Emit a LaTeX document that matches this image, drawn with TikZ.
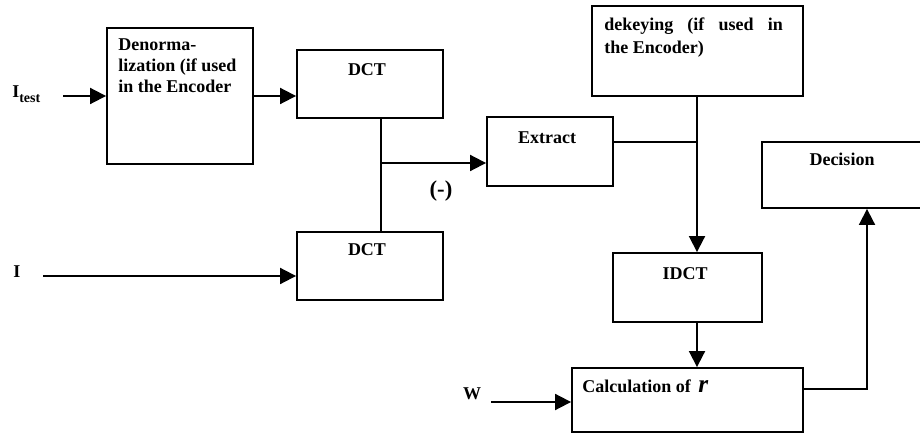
\documentclass[tikz,border=0pt]{standalone}
\usepackage{fontspec}
\setmainfont{Liberation Serif}
\usetikzlibrary{arrows.meta}
\begin{document}
\begin{tikzpicture}[x=0.75pt,y=-0.75pt,
  blk/.style={draw,line width=1.4pt,inner sep=0pt},
  lbl/.style={font=\bfseries\fontsize{13.5}{15.75}\selectfont,inner sep=0pt},
  wire/.style={line width=1.4pt},
  flow/.style={wire,-{Triangle[length=12pt,width=12pt]}}]
\clip (0,0) rectangle (920,434);

% processing blocks
\node[blk,minimum width=146*0.75pt,minimum height=136*0.75pt] (denorm) at (180,96) {};
\node[blk,minimum width=146*0.75pt,minimum height=68*0.75pt] (dct1) at (370,84) {};
\node[blk,minimum width=146*0.75pt,minimum height=68*0.75pt] (dct2) at (370,266) {};
\node[blk,minimum width=126*0.75pt,minimum height=69*0.75pt] (extract) at (550,151.5) {};
\node[blk,minimum width=211*0.75pt,minimum height=90*0.75pt] (dekey) at (697.5,51) {};
\node[blk,minimum width=149*0.75pt,minimum height=69*0.75pt] (idct) at (687.5,287.5) {};
\node[blk,minimum width=231*0.75pt,minimum height=64*0.75pt] (calc) at (687.5,400) {};
\node[blk,minimum width=180*0.75pt,minimum height=66*0.75pt] (decision) at (852,175) {};

% block captions
\node[lbl,anchor=north west,align=left] (tdenorm) at (118,38) {Denorma-\\lization (if used\\in the Encoder};
\node[lbl,anchor=base] (tdct1) at (367,76) {DCT};
\node[lbl,anchor=base] (tdct2) at (367,256) {DCT};
\node[lbl,anchor=base] (textract) at (547,144) {Extract};
\node[lbl,anchor=north west,text width=134pt,align=justify,
      font=\bfseries\fontsize{13.5}{17}\selectfont] (tdekey) at (604,18)
      {dekeying (if used in\linebreak the Encoder)};
\node[lbl,anchor=base] (tidct) at (685,280) {IDCT};
\node[lbl,anchor=base] (tdecision) at (842,166) {Decision};
\node[lbl,anchor=base west] (tcalc) at (582,392)
      {Calculation of\, {\fontsize{19}{19}\selectfont\itshape r}};

% input labels
\node[lbl,anchor=base west] (itest) at (12,98)
      {I\raisebox{-3.5pt}{\fontsize{10.5}{10.5}\selectfont test}};
\node[lbl,anchor=base west] (iorig) at (13,278) {I};
\node[lbl,anchor=base] (wlab) at (472,399) {W};
\node[lbl,anchor=base,font=\bfseries\fontsize{17}{17}\selectfont] (minus) at (441,197) {(-)};

% junction points
\coordinate (itin) at (63,96);
\coordinate (iin) at (43,276);
\coordinate (win) at (491,402);
\coordinate (j) at (381,163);
\coordinate (k) at (697,142);
\coordinate (m) at (867,389);

% connectors
\draw[flow] (itin) -- (itin -| denorm.west);
\draw[flow] (denorm.east) -- (denorm.east -| dct1.west);
\draw[wire] (dct1.south -| j) -- (dct2.north -| j);
\draw[flow] (j) -- (j -| extract.west);
\draw[flow] (iin) -- (iin -| dct2.west);
\draw[wire] (extract.east |- k) -- (k);
\draw[flow] (dekey.south -| k) -- (idct.north -| k);
\draw[flow] (idct.south -| k) -- (calc.north -| k);
\draw[flow] (win) -- (win -| calc.west);
\draw[flow] (m -| calc.east) -- (m) -- (m |- decision.south);
\end{tikzpicture}
\end{document}
